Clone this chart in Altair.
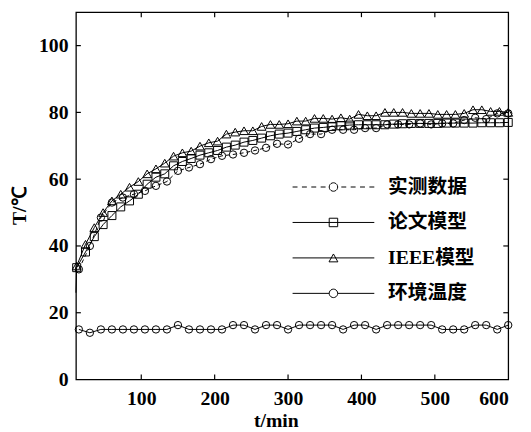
import math
import altair as alt
import pandas as pd

# ---------------- data ----------------
series_names = ["实测数据", "论文模型", "IEEE模型", "环境温度"]

t_meas = list(range(15, 601, 15))
meas_temp = [33, 40, 48.5, 53, 54.5, 55.5, 56.5, 58, 59.3, 62.5,
             63.5, 64.5, 66, 67, 67.4, 67.9, 68.6, 69.4, 70.6, 70.4,
             72.1, 73.5, 73.5, 74.8, 74.8, 74.8, 75.3, 75.3, 76.4, 76.4,
             76.4, 76.7, 76.4, 76.7, 76.7, 77.7, 78.4, 78, 79.7, 79.7]

t_env = list(range(15, 601, 15))
env_temp = [15, 14, 15, 15, 15, 15, 15, 15, 15, 16.3,
            15, 15, 15, 15, 16.3, 16.3, 15, 16.3, 16.3, 15,
            16.3, 16.3, 16.3, 16.3, 15, 16.3, 16.3, 15, 16.3, 16.3,
            16.3, 16.3, 16.3, 15, 15, 15, 16.3, 16.3, 15, 16.3]

t_model = list(range(12, 601, 12))
paper_model = [33.5, 38.2, 42.8, 46.4, 49.1, 51.7, 53.5, 55.5, 58.5, 60.6,
               61.6, 64, 65.3, 66.2, 67.2, 67.9, 68.6, 69.6, 70.2, 71.1,
               71.6, 72.3, 73, 73.5, 73.8, 74.3, 74.8, 75.3, 75.5, 75.8,
               76, 76.2, 76.3, 76.3, 76.3, 76.3, 76.5, 76.6, 76.7, 76.7,
               76.7, 76.7, 76.8, 76.8, 76.8, 76.8, 76.9, 76.9, 76.9, 77]
paper_start_t = [11]
paper_start_v = [26]
ieee_model = [34, 40.5, 45.5, 50, 53.5, 55.5, 57.6, 59.3, 61.6, 63.1,
              64.8, 66.9, 67.9, 68.4, 69.9, 70.9, 71.4, 73.5, 74.1, 74.5,
              74.5, 75.8, 76.4, 76.4, 76.6, 77.4, 77.4, 78.2, 78.2, 78,
              78.4, 78, 79.4, 79, 79, 80, 80, 80, 79.7, 79.7,
              79.7, 79.4, 79.4, 79.4, 79.7, 80.8, 80.8, 80.3, 80.3, 80]

x_ticks = [100, 200, 300, 400, 500, 600]
y_ticks = [0, 20, 40, 60, 80, 100]
x_domain = [11, 600]
y_domain = [0, 110]

# ---------------- layout / style ----------------
W, H = 439, 373
SERIF = "Liberation Serif"
LEG_FONT = "Liberation Serif, Noto Sans CJK SC"
INK = "black"

meas_df = pd.DataFrame({"t": t_meas, "T": meas_temp})
env_df = pd.DataFrame({"t": t_env, "T": env_temp})
paper_pts = pd.DataFrame({"t": t_model, "T": paper_model})
paper_line = pd.DataFrame({"t": paper_start_t + t_model, "T": paper_start_v + paper_model})
ieee_df = pd.DataFrame({"t": t_model, "T": ieee_model})

x_enc = alt.X("t:Q", scale=alt.Scale(domain=x_domain, nice=False, zero=False),
              axis=alt.Axis(values=x_ticks, title="t/min", titleX=203, titleY=42,
                            titleBaseline="middle", titleAlign="center", labelPadding=9))
y_enc = alt.Y("T:Q", scale=alt.Scale(domain=y_domain, nice=False),
              axis=alt.Axis(values=y_ticks, title="T/℃", titleX=-57, titleY=196,
                            titleBaseline="middle", titleAlign="center", titleAngle=270,
                            labelPadding=8))


def line(df, dash=None):
    kw = dict(color=INK, strokeWidth=1)
    if dash:
        kw["strokeDash"] = dash
    return alt.Chart(df).mark_line(**kw).encode(x=x_enc, y=y_enc)


def pts(df, shape, size):
    return alt.Chart(df).mark_point(shape=shape, size=size, filled=False,
                                    color=INK, strokeWidth=1, opacity=1).encode(x=x_enc, y=y_enc)


# ---- legend symbols: a line with the marker in its middle (custom SVG paths) ----
UNIT = 10.0          # px per symbol-path unit (symbol size = (2*UNIT)^2)
SYM_SIZE = (2 * UNIT) ** 2
L = 41.5             # half length of the legend line in px


def u(v):
    return round(v / UNIT, 4)


def circle_path(r, n=20):
    p = []
    for i in range(n):
        a = 2 * math.pi * i / n
        p.append(("M" if i == 0 else "L") + f"{u(r*math.cos(a))},{u(r*math.sin(a))}")
    return "".join(p) + "Z"


def seg(a, b):
    return f"M{u(a)},0L{u(b)},0"


R = 4.3
dash_path = "".join(seg(a, a + 5) for a in [-41.5, -32, -22.5, -13]) + \
            "".join(seg(a, a + 5) for a in [8, 17.5, 27, 36.5])
meas_sym = dash_path + circle_path(R)
sq = 4.3
paper_sym = seg(-L, L) + f"M{u(-sq)},{u(-sq)}L{u(sq)},{u(-sq)}L{u(sq)},{u(sq)}L{u(-sq)},{u(sq)}Z"
tri_w, tri_h = 4.5, 4
ieee_sym = seg(-L, L) + f"M0,{u(-tri_h)}L{u(tri_w)},{u(tri_h)}L{u(-tri_w)},{u(tri_h)}Z"
env_sym = seg(-L, -R) + seg(R, L) + circle_path(R)

legend_df = pd.DataFrame({"series": series_names})
legend_layer = alt.Chart(legend_df).transform_filter("false").mark_point(
    filled=False, color=INK, strokeWidth=1, opacity=1
).encode(
    shape=alt.Shape("series:N",
                    scale=alt.Scale(domain=series_names,
                                    range=[meas_sym, paper_sym, ieee_sym, env_sym]),
                    legend=alt.Legend(title=None, orient="none", legendX=251, legendY=167,
                                      symbolSize=SYM_SIZE, symbolStrokeWidth=1,
                                      symbolStrokeColor=INK, symbolFillColor="transparent",
                                      labelFont=LEG_FONT, labelFontSize=20,
                                      labelFontWeight="bold", labelColor=INK,
                                      labelOffset=45, rowPadding=15, padding=0,
                                      labelLimit=300))
)

# ---- inward ticks on all four sides ----
xt_df = pd.DataFrame({"t": x_ticks[:-1]})
yt_df = pd.DataFrame({"T": y_ticks[1:]})
TK = 5
tick_kw = dict(color=INK, strokeWidth=1.2)
ticks = [
    alt.Chart(xt_df).mark_rule(**tick_kw).encode(x=x_enc, y=alt.value(H), y2=alt.value(H - TK)),
    alt.Chart(xt_df).mark_rule(**tick_kw).encode(x=x_enc, y=alt.value(0), y2=alt.value(TK)),
    alt.Chart(yt_df).mark_rule(**tick_kw).encode(y=y_enc, x=alt.value(0), x2=alt.value(TK)),
    alt.Chart(yt_df).mark_rule(**tick_kw).encode(y=y_enc, x=alt.value(W), x2=alt.value(W - TK)),
]

chart = alt.layer(
    *ticks,
    line(env_df),
    line(paper_line),
    line(ieee_df),
    line(meas_df, dash=[4, 3]),
    pts(env_df, "circle", 56),
    pts(paper_pts, "square", 66),
    pts(ieee_df, "triangle-up", 80),
    pts(meas_df, "circle", 56),
    legend_layer,
).properties(
    width=W, height=H,
    background="white",
    padding={"left": 69, "top": 1, "right": 15, "bottom": 50},
    autosize=alt.AutoSizeParams(type="none"),
).configure_view(
    stroke=INK, strokeWidth=1.3
).configure_axis(
    domain=False, ticks=False, grid=False,
    labelFont=SERIF, labelFontSize=20, labelFontWeight="bold", labelColor=INK,
    titleFont=SERIF, titleFontSize=20, titleFontWeight="bold", titleColor=INK,
)

chart.save("out.html", embed_options={"renderer": "svg", "actions": False})
